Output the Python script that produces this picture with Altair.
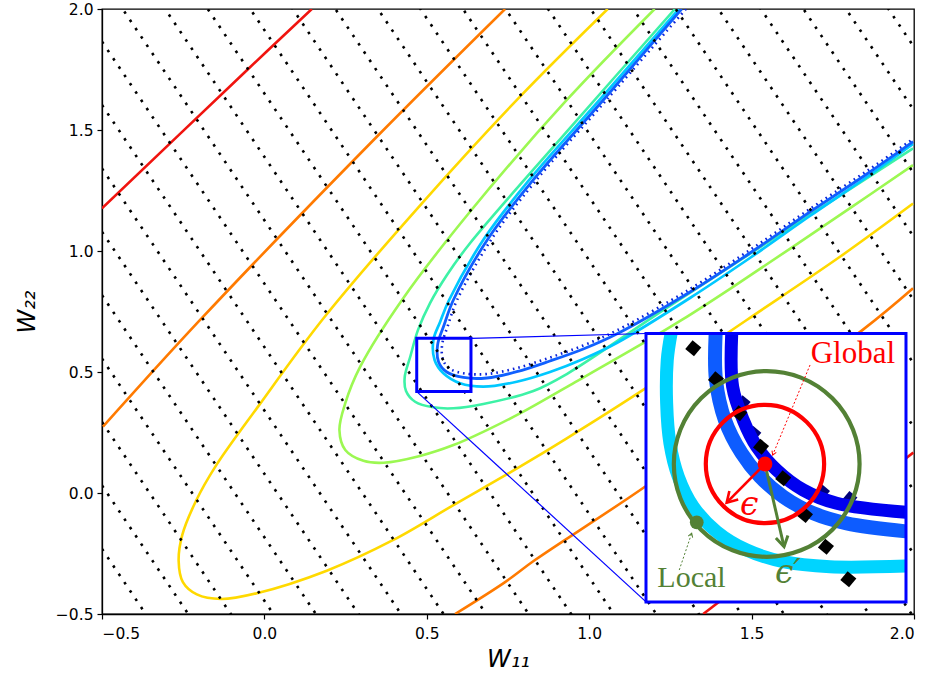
import altair as alt
import pandas as pd

# ---------------- main panel data (W11, W22 units) ----------------
red_a_w11 = [-0.5, -0.054, 0.146]
red_a_w22 = [1.176, 1.747, 2.0]
red_b_w11 = [1.351, 1.998]
red_b_w22 = [-0.5, 0.167]

orange_a_w11 = [-0.497, -0.198, 0.346, 0.741]
orange_a_w22 = [0.274, 0.715, 1.472, 2.0]
orange_b_w11 = [0.587, 0.741, 0.833, 1.175, 1.842, 1.997]
orange_b_w22 = [-0.5, -0.368, -0.277, 0.029, 0.674, 0.846]

yellow_w11 = [1.057, 0.787, 0.485, 0.182, -0.018, -0.151, -0.210, -0.253, -0.264, -0.251,
              -0.208, -0.133, -0.023, 0.192, 0.397, 0.582, 0.787, 0.931, 1.166, 1.485,
              1.772, 1.997]
yellow_w22 = [2.0, 1.638, 1.197, 0.722, 0.360, 0.109, -0.031, -0.174, -0.281, -0.368,
              -0.419, -0.438, -0.414, -0.321, -0.194, -0.050, 0.109, 0.226, 0.426, 0.715,
              0.976, 1.196]

lime_w11 = [1.2015, 0.931, 0.633, 0.428, 0.295, 0.249, 0.231, 0.249, 0.305, 0.367,
            0.479, 0.582, 0.685, 0.787, 0.941, 1.166, 1.285, 1.443, 1.802, 1.997]
lime_w22 = [2.0, 1.624, 1.162, 0.806, 0.522, 0.371, 0.260, 0.178, 0.133, 0.125,
            0.153, 0.198, 0.260, 0.329, 0.446, 0.619, 0.715, 0.852, 1.176, 1.355]

teal_w11 = [1.264, 0.931, 0.633, 0.562, 0.510, 0.473, 0.449, 0.432, 0.436, 0.464,
            0.520, 0.582, 0.674, 0.828, 0.931, 1.228, 1.608, 1.997]
teal_w22 = [2.0, 1.493, 1.032, 0.901, 0.785, 0.674, 0.563, 0.479, 0.4215, 0.377,
            0.354, 0.350, 0.368, 0.4215, 0.4917, 0.756, 1.087, 1.424]

cyan_w11 = [1.2763, 1.0317, 0.8108, 0.6772, 0.5686, 0.5409, 0.5203, 0.524, 0.5511, 0.6025,
            0.6742, 0.7769, 0.8794, 0.9818, 1.0846, 1.3102, 1.4948, 1.6794, 1.864, 1.9972]
cyan_w22 = [2.0, 1.624, 1.2864, 1.0525, 0.7975, 0.7066, 0.6322, 0.5496, 0.4946, 0.4533,
            0.4393, 0.4599, 0.5, 0.5537, 0.6198, 0.8058, 0.9711, 1.1446, 1.314, 1.4421]

blue_w11 = [1.2846, 1.0434, 0.8231, 0.6895, 0.5818, 0.5532, 0.5332, 0.5363, 0.5615, 0.6126,
            0.6846, 0.7769, 0.8794, 0.9818, 1.0846, 1.3102, 1.4948, 1.6794, 1.864, 1.9972]
blue_w22 = [2.0, 1.624, 1.2864, 1.0525, 0.7975, 0.6942, 0.6116, 0.5413, 0.5, 0.4773,
            0.4752, 0.5012, 0.5455, 0.595, 0.657, 0.8306, 0.9917, 1.1612, 1.3264, 1.4517]

navy_w11 = [1.2978, 1.0532, 0.8332, 0.7009, 0.5932, 0.5655, 0.5471, 0.5502, 0.5717, 0.6178,
            0.6855, 0.7778, 0.8794, 0.9818, 1.0846, 1.3102, 1.4948, 1.6794, 1.864, 1.9972]
navy_w22 = [2.0, 1.624, 1.2864, 1.0525, 0.7975, 0.6942, 0.6116, 0.5496, 0.5124, 0.4938,
            0.4917, 0.5165, 0.5599, 0.6095, 0.6715, 0.843, 1.0041, 1.1736, 1.3388, 1.4628]

# dotted reference lines 2*W11 + W22 = c
dotted_c = [-1.231, -0.969, -0.707, -0.445, -0.183, 0.079, 0.341, 0.603, 0.865, 1.127,
            1.389, 1.651, 1.913, 2.175, 2.437, 2.699, 2.961, 3.223, 3.485, 3.747,
            4.009, 4.271, 4.533, 4.795, 5.057, 5.319, 5.581, 5.843]

# zoom rectangle in the main panel and the inset's place in main units
zoom_w11 = [0.469, 0.636]
zoom_w22 = [0.419, 0.639]
inset_w11_main = 1.175
inset_w22_main = [0.659, -0.450]

# ---------------- inset data (zoomed W11, W22 units) ----------------
box_w11 = [0.47, 0.635]
box_w22 = [0.42, 0.64]
in_cyan_w11 = [0.4859, 0.4835, 0.4831, 0.4852, 0.4905, 0.5000, 0.5149, 0.5339, 0.5571, 0.5868, 0.635]
in_cyan_w22 = [0.64, 0.6183, 0.5828, 0.5500, 0.5227, 0.4981, 0.4776, 0.4626, 0.4530, 0.4489, 0.4495]
in_blue_w11 = [0.5142, 0.5144, 0.5201, 0.5307, 0.5423, 0.5571, 0.5762, 0.5974, 0.635]
in_blue_w22 = [0.64, 0.6019, 0.5691, 0.5418, 0.5227, 0.5063, 0.4927, 0.4845, 0.4779]
in_dark_w11 = [0.5244, 0.5250, 0.5317, 0.5403, 0.5529, 0.5698, 0.5910, 0.635]
in_dark_w22 = [0.64, 0.5964, 0.5691, 0.5472, 0.5282, 0.5118, 0.5009, 0.4935]
diam_w11 = [0.5000, 0.5144, 0.5292, 0.5430, 0.5571, 0.5709, 0.5842, 0.5984]
diam_w22 = [0.6279, 0.6025, 0.5746, 0.5472, 0.5214, 0.4913, 0.4653, 0.4386]
navy_sq_w11 = [0.5317, 0.5385, 0.5821, 0.5995]
navy_sq_w22 = [0.5833, 0.5582, 0.5104, 0.5050]
global_pt = (0.5455, 0.5331)
local_pt = (0.5022, 0.4853)
eps_tip = (0.5212, 0.5014)
eps2_tip = (0.5576, 0.4653)
global_ptr = [(0.5741, 0.6142), (0.5504, 0.5404)]
local_ptr = [(0.4911, 0.4462), (0.4990, 0.4763)]
labels = [
    ("Global", 0.5745, 0.6161, "#ff0000", "Liberation Serif", "normal", 31),
    ("Local", 0.4772, 0.4325, "#538135", "Liberation Serif", "normal", 30),
    ("ϵ", 0.5296, 0.4913, "#ff0000", "DejaVu Serif", "italic", 33),
    ("ϵ′", 0.5518, 0.4356, "#538135", "DejaVu Serif", "italic", 33),
]

# ---------------- helpers ----------------
XS = alt.Scale(domain=[-0.5, 2.0], nice=False, zero=False)
YS = alt.Scale(domain=[-0.5, 2.0], nice=False, zero=False)
XI = alt.Scale(domain=[0.12477, 0.64008], nice=False, zero=False)
YI = alt.Scale(domain=[0.41017, 0.90589], nice=False, zero=False)

XAX = alt.Axis(values=[-0.5, 0.0, 0.5, 1.0, 1.5, 2.0], format=".1f", title="W₁₁",
               grid=False, tickSize=5, labelPadding=7, titlePadding=6)
YAX = alt.Axis(values=[-0.5, 0.0, 0.5, 1.0, 1.5, 2.0], format=".1f", title="W₂₂",
               grid=False, tickSize=5, labelPadding=4, titlePadding=16)

SMOOTH = "catmull-rom"


def mx(f="w11"):
    return alt.X(f, type="quantitative", scale=XS, axis=XAX)


def my(f="w22"):
    return alt.Y(f, type="quantitative", scale=YS, axis=YAX)


def ix(f="w11"):
    return alt.X(f, type="quantitative", scale=XI, axis=None)


def iy(f="w22"):
    return alt.Y(f, type="quantitative", scale=YI, axis=None)


def curve(xs, ys, name="c"):
    return pd.DataFrame({"curve": name, "seq": list(range(len(xs))), "w11": xs, "w22": ys})


def main_line(df, color, width, **kw):
    return alt.Chart(df).mark_line(color=color, strokeWidth=width, clip=True, **kw).encode(
        x=mx(), y=my(), detail="curve:N", order="seq:Q")


def inset_line(df, color, width, **kw):
    return alt.Chart(df).mark_line(color=color, strokeWidth=width, **kw).encode(
        x=ix(), y=iy(), detail="curve:N", order="seq:Q")


# ---------------- main layers ----------------
main_layers = [
    main_line(pd.concat([curve(red_a_w11, red_a_w22, "a"), curve(red_b_w11, red_b_w22, "b")]),
              "#f0140f", 2.6, interpolate=SMOOTH),
    main_line(pd.concat([curve(orange_a_w11, orange_a_w22, "a"), curve(orange_b_w11, orange_b_w22, "b")]),
              "#ff7a00", 2.6, interpolate=SMOOTH),
    main_line(curve(yellow_w11, yellow_w22), "#ffd900", 2.6, interpolate=SMOOTH),
    main_line(curve(lime_w11, lime_w22), "#9cf852", 2.6, interpolate=SMOOTH),
    main_line(curve(teal_w11, teal_w22), "#3df2a6", 2.6, interpolate=SMOOTH),
    main_line(curve(cyan_w11, cyan_w22), "#00c8ff", 2.7, interpolate=SMOOTH),
    main_line(curve(navy_w11, navy_w22), "#0a22d8", 2.6, strokeDash=[1.6, 4.0], interpolate=SMOOTH),
    main_line(curve(blue_w11, blue_w22), "#1060ff", 2.8, interpolate=SMOOTH),
]

dot_rows = []
for c in dotted_c:
    dot_rows.append({"curve": c, "seq": 0, "w11": -0.5, "w22": c + 1.0})
    dot_rows.append({"curve": c, "seq": 1, "w11": 2.0, "w22": c - 4.0})
main_layers.append(main_line(pd.DataFrame(dot_rows), "black", 2.6, strokeDash=[2.6, 7.4]))

zoom_df = pd.DataFrame({"w11": [zoom_w11[0]], "w11b": [zoom_w11[1]],
                        "w22": [zoom_w22[0]], "w22b": [zoom_w22[1]]})
main_layers.append(alt.Chart(zoom_df).mark_rect(filled=False, stroke="#0000ff", strokeWidth=3).encode(
    x=mx(), x2="w11b", y=my(), y2="w22b"))

conn = pd.DataFrame({
    "curve": ["t", "t", "b", "b"], "seq": [0, 1, 0, 1],
    "w11": [zoom_w11[1], inset_w11_main, zoom_w11[0], inset_w11_main],
    "w22": [zoom_w22[1], inset_w22_main[0], zoom_w22[0], inset_w22_main[1]],
})
main_layers.append(main_line(conn, "#0000ff", 1.2))

main = alt.layer(*main_layers)

# ---------------- inset layers ----------------
box_df = pd.DataFrame({"w11": [box_w11[0]], "w11b": [box_w11[1]],
                       "w22": [box_w22[0]], "w22b": [box_w22[1]]})
V_ARROW = "M-0.6,1L0,0L0.6,1"

inset_layers = [
    alt.Chart(box_df).mark_rect(color="white", opacity=1).encode(x=ix(), x2="w11b", y=iy(), y2="w22b"),
    inset_line(curve(in_cyan_w11, in_cyan_w22), "#00d4ff", 13, interpolate=SMOOTH),
    alt.Chart(pd.DataFrame({"w11": navy_sq_w11, "w22": navy_sq_w22})).mark_point(
        shape="square", size=110, angle=40, filled=True, color="#00007a", opacity=1).encode(x=ix(), y=iy()),
    inset_line(curve(in_blue_w11, in_blue_w22), "#0d5cff", 14, interpolate=SMOOTH),
    inset_line(curve(in_dark_w11, in_dark_w22), "#0000f0", 13, interpolate=SMOOTH),
    alt.Chart(pd.DataFrame({"w11": diam_w11, "w22": diam_w22})).mark_point(
        shape="square", size=130, angle=40, filled=True, color="black", opacity=1).encode(x=ix(), y=iy()),
    alt.Chart(pd.DataFrame({"w11": [global_pt[0]], "w22": [global_pt[1]]})).mark_point(
        shape="circle", size=14000, filled=False, color="#ff0000", strokeWidth=4.2, opacity=1).encode(x=ix(), y=iy()),
    alt.Chart(pd.DataFrame({"w11": [global_pt[0] + 0.0011], "w22": [global_pt[1]]})).mark_point(
        shape="circle", size=34500, filled=False, color="#538135", strokeWidth=4.2, opacity=1).encode(x=ix(), y=iy()),
    inset_line(curve([global_pt[0], eps_tip[0]], [global_pt[1], eps_tip[1]]), "#ff0000", 2.6),
    alt.Chart(pd.DataFrame({"w11": [eps_tip[0]], "w22": [eps_tip[1]]})).mark_point(
        shape=V_ARROW, size=420, angle=224, filled=False, color="#ff0000", strokeWidth=2.6, opacity=1).encode(x=ix(), y=iy()),
    inset_line(curve([global_pt[0], eps2_tip[0]], [global_pt[1], eps2_tip[1]]), "#538135", 3.0),
    alt.Chart(pd.DataFrame({"w11": [eps2_tip[0]], "w22": [eps2_tip[1]]})).mark_point(
        shape=V_ARROW, size=420, angle=168, filled=False, color="#538135", strokeWidth=3.0, opacity=1).encode(x=ix(), y=iy()),
    alt.Chart(pd.DataFrame({"w11": [global_pt[0]], "w22": [global_pt[1]]})).mark_point(
        shape="circle", size=220, filled=True, color="#ff0000", opacity=1).encode(x=ix(), y=iy()),
    alt.Chart(pd.DataFrame({"w11": [local_pt[0]], "w22": [local_pt[1]]})).mark_point(
        shape="circle", size=190, filled=True, color="#538135", opacity=1).encode(x=ix(), y=iy()),
    inset_line(curve([p[0] for p in global_ptr], [p[1] for p in global_ptr]), "#ff0000", 1.0, strokeDash=[2, 2]),
    alt.Chart(pd.DataFrame({"w11": [global_ptr[1][0]], "w22": [global_ptr[1][1]]})).mark_point(
        shape=V_ARROW, size=60, angle=202, filled=False, color="#ff0000", strokeWidth=1.0, opacity=1).encode(x=ix(), y=iy()),
    inset_line(curve([p[0] for p in local_ptr], [p[1] for p in local_ptr]), "#538135", 1.0, strokeDash=[2, 2]),
    alt.Chart(pd.DataFrame({"w11": [local_ptr[1][0]], "w22": [local_ptr[1][1]]})).mark_point(
        shape=V_ARROW, size=60, angle=19, filled=False, color="#538135", strokeWidth=1.0, opacity=1).encode(x=ix(), y=iy()),
]
for text, tx, ty, col, font, style, fs in labels:
    inset_layers.append(alt.Chart(pd.DataFrame({"w11": [tx], "w22": [ty], "t": [text]})).mark_text(
        align="left", baseline="alphabetic", font=font, fontStyle=style, fontSize=fs, color=col).encode(
        x=ix(), y=iy(), text="t:N"))
inset_layers.append(alt.Chart(box_df).mark_rect(filled=False, stroke="#0000ff", strokeWidth=3).encode(
    x=ix(), x2="w11b", y=iy(), y2="w22b"))

inset = alt.layer(*inset_layers)

chart = alt.layer(main, inset).resolve_scale(x="independent", y="independent").properties(
    width=812, height=605,
    padding={"left": 102, "top": 9, "right": 16, "bottom": 71},
    autosize=alt.AutoSizeParams(type="none"),
    background="white",
).configure_view(stroke="black", strokeWidth=1.3).configure_axis(
    labelFont="DejaVu Sans", labelFontSize=15.5, labelColor="black",
    titleFont="DejaVu Sans", titleFontSize=24, titleFontStyle="italic", titleFontWeight="normal",
    titleColor="black", tickColor="black", domainColor="black", tickWidth=1.2, domainWidth=1.3,
)

chart.save("out.html", embed_options={"renderer": "svg", "actions": False})
